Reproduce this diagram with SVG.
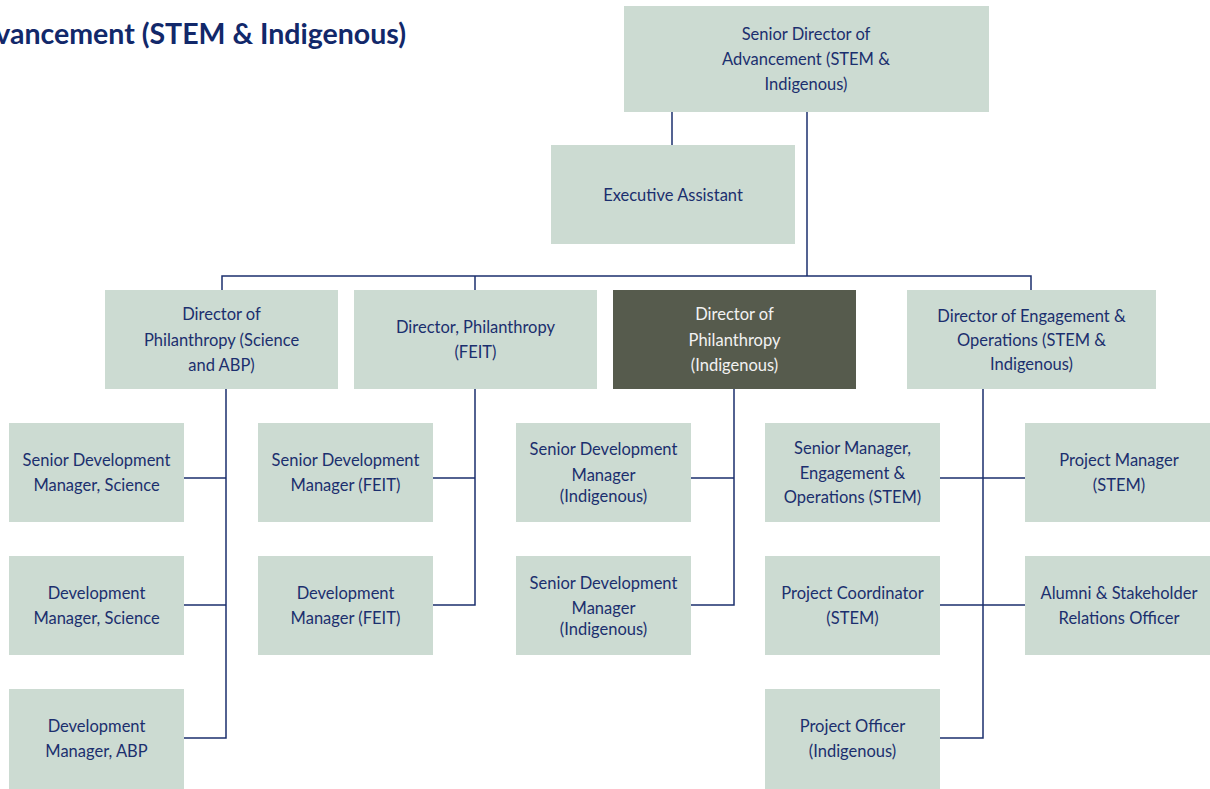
<svg xmlns="http://www.w3.org/2000/svg" width="1210" height="789" viewBox="0 0 1210 789">
<style>
.box{fill:#ccdbd2}
.dark{fill:#565b4d}
.t{font-family:Lato,"Noto Sans",sans-serif;font-size:16.5px;fill:#1b2f6e;text-anchor:middle}
.tw{fill:#f2f2f2}
.c{stroke:#1b2f6e;stroke-width:1.5;fill:none}
.title{font-family:Lato,"Noto Sans",sans-serif;font-size:28.5px;font-weight:bold;fill:#12286a;text-anchor:end}
</style>
<rect width="1210" height="789" fill="#ffffff"/>
<text class="title" x="406" y="44">Advancement (STEM &amp; Indigenous)</text>
<g id="connectors">
<path class="c" d="M672 112V145"/>
<path class="c" d="M807 112V276"/>
<path class="c" d="M222 290V276H1031V290"/>
<path class="c" d="M475 276V290"/>
<path class="c" d="M226 389V738H184M184 478H226M184 605H226"/>
<path class="c" d="M475 389V605H433M433 478H475"/>
<path class="c" d="M734 389V605H691M691 478H734"/>
<path class="c" d="M983 389V738H940M940 478H1025M940 605H1025"/>
</g>
<g id="n-senior-director"><rect class="box" x="624" y="6" width="365" height="106"/>
<text class="t" x="806" y="39.5">Senior Director of</text><text class="t" x="806" y="64.5">Advancement (STEM &amp;</text><text class="t" x="806" y="89.5">Indigenous)</text></g>
<g id="n-exec"><rect class="box" x="551" y="145" width="244" height="99"/>
<text class="t" x="673" y="200.5">Executive Assistant</text></g>
<g id="n-dir-sci"><rect class="box" x="105" y="290" width="233" height="99"/>
<text class="t" x="221.5" y="319.5">Director of</text><text class="t" x="221.5" y="345.5">Philanthropy (Science</text><text class="t" x="221.5" y="370.5">and ABP)</text></g>
<g id="n-dir-feit"><rect class="box" x="354" y="290" width="243" height="99"/>
<text class="t" x="475.5" y="332.5">Director, Philanthropy</text><text class="t" x="475.5" y="357.5">(FEIT)</text></g>
<g id="n-dir-indig"><rect class="dark" x="613" y="290" width="243" height="99"/>
<text class="t tw" x="734.5" y="319.5">Director of</text><text class="t tw" x="734.5" y="345.5">Philanthropy</text><text class="t tw" x="734.5" y="370.5">(Indigenous)</text></g>
<g id="n-dir-eng"><rect class="box" x="907" y="290" width="249" height="99"/>
<text class="t" x="1031.5" y="321.5">Director of Engagement &amp;</text><text class="t" x="1031.5" y="345.5">Operations (STEM &amp;</text><text class="t" x="1031.5" y="369.5">Indigenous)</text></g>
<g id="n-sdm-sci"><rect class="box" x="9" y="423" width="175" height="99"/>
<text class="t" x="96.5" y="465.5">Senior Development</text><text class="t" x="96.5" y="490.5">Manager, Science</text></g>
<g id="n-dm-sci"><rect class="box" x="9" y="556" width="175" height="99"/>
<text class="t" x="96.5" y="598.5">Development</text><text class="t" x="96.5" y="623.5">Manager, Science</text></g>
<g id="n-dm-abp"><rect class="box" x="9" y="689" width="175" height="100"/>
<text class="t" x="96.5" y="731.5">Development</text><text class="t" x="96.5" y="756.5">Manager, ABP</text></g>
<g id="n-sdm-feit"><rect class="box" x="258" y="423" width="175" height="99"/>
<text class="t" x="345.5" y="465.5">Senior Development</text><text class="t" x="345.5" y="490.5">Manager (FEIT)</text></g>
<g id="n-dm-feit"><rect class="box" x="258" y="556" width="175" height="99"/>
<text class="t" x="345.5" y="598.5">Development</text><text class="t" x="345.5" y="623.5">Manager (FEIT)</text></g>
<g id="n-sdm-indig1"><rect class="box" x="516" y="423" width="175" height="99"/>
<text class="t" x="603.5" y="454.5">Senior Development</text><text class="t" x="603.5" y="480.5">Manager</text><text class="t" x="603.5" y="501.5">(Indigenous)</text></g>
<g id="n-sdm-indig2"><rect class="box" x="516" y="556" width="175" height="99"/>
<text class="t" x="603.5" y="588.5">Senior Development</text><text class="t" x="603.5" y="613.5">Manager</text><text class="t" x="603.5" y="634.5">(Indigenous)</text></g>
<g id="n-sm-eng"><rect class="box" x="765" y="423" width="175" height="99"/>
<text class="t" x="852.5" y="453.5">Senior Manager,</text><text class="t" x="852.5" y="478.5">Engagement &amp;</text><text class="t" x="852.5" y="502.5">Operations (STEM)</text></g>
<g id="n-pc-stem"><rect class="box" x="765" y="556" width="175" height="99"/>
<text class="t" x="852.5" y="598.5">Project Coordinator</text><text class="t" x="852.5" y="623.5">(STEM)</text></g>
<g id="n-po-indig"><rect class="box" x="765" y="689" width="175" height="100"/>
<text class="t" x="852.5" y="731.5">Project Officer</text><text class="t" x="852.5" y="756.5">(Indigenous)</text></g>
<g id="n-pm-stem"><rect class="box" x="1025" y="423" width="185" height="99"/>
<text class="t" x="1119" y="465.5">Project Manager</text><text class="t" x="1119" y="490.5">(STEM)</text></g>
<g id="n-alumni"><rect class="box" x="1025" y="556" width="185" height="99"/>
<text class="t" x="1119" y="598.5">Alumni &amp; Stakeholder</text><text class="t" x="1119" y="623.5">Relations Officer</text></g>
</svg>
